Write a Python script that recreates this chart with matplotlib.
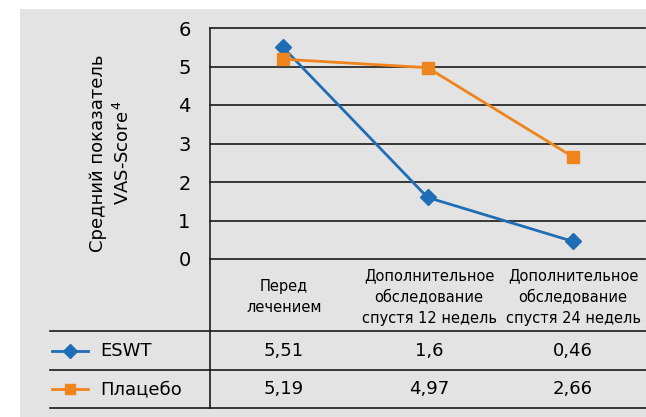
import matplotlib.pyplot as plt
from matplotlib.patches import Rectangle
from matplotlib.lines import Line2D

# data
categories = ['Перед\nлечением',
              'Дополнительное\nобследование\nспустя 12 недель',
              'Дополнительное\nобследование\nспустя 24 недель']
eswt = [5.51, 1.6, 0.46]
placebo = [5.19, 4.97, 2.66]
eswt_labels = ['5,51', '1,6', '0,46']
placebo_labels = ['5,19', '4,97', '2,66']
y_ticks = [0, 1, 2, 3, 4, 5, 6]

plt.rcParams['font.family'] = ['Liberation Sans Narrow', 'DejaVu Sans']

W, H = 646, 417
fig = plt.figure(figsize=(W / 100, H / 100), dpi=100)
fig.patch.set_facecolor('white')

def fx(px):
    return px / W

def fy(py):
    return 1 - py / H

bg = '#e3e3e3'
fig.add_artist(Rectangle((fx(20), 0), 1 - fx(20), fy(9), transform=fig.transFigure,
                         facecolor=bg, edgecolor='none', zorder=0))

ax = fig.add_axes([fx(210), fy(259), fx(645) - fx(210), fy(28) - fy(259)])
ax.set_facecolor('none')
ax.set_xlim(-0.5, 2.5)
ax.set_ylim(0, 6)
for s in ['top', 'right', 'bottom']:
    ax.spines[s].set_visible(False)
ax.spines['left'].set_color('#222222')
ax.spines['left'].set_linewidth(1.2)
for t in y_ticks:
    ax.axhline(t, color='#1a1a1a', lw=1.2, zorder=1, clip_on=False)
ax.set_yticks(y_ticks)
ax.set_yticklabels([str(t) for t in y_ticks], fontsize=14)
ax.tick_params(axis='y', length=0, pad=14)
ax.set_xticks([])

blue = '#1f6db5'
orange = '#f0841c'
x = range(len(categories))
ax.plot(x, eswt, color=blue, lw=2, marker='D', ms=8, zorder=3, clip_on=False)
ax.plot(x, placebo, color=orange, lw=2, marker='s', ms=8, zorder=3, clip_on=False)

fig.text(fx(111), fy(153), 'Средний показатель\nVAS-Score$^{\\,4}$', rotation=90,
         ha='center', va='center', fontsize=13, linespacing=1.35)

# table below
lc = '#1a1a1a'
fig.add_artist(Line2D([fx(210), fx(210)], [fy(259), fy(408)], transform=fig.transFigure,
                      color=lc, lw=1.2))
for py in [331, 370, 408]:
    fig.add_artist(Line2D([fx(50), 1], [fy(py), fy(py)], transform=fig.transFigure,
                          color=lc, lw=1.2))

col_x = [fx(284), fx(429), fx(573)]
for cx, lab in zip(col_x, categories):
    fig.text(cx, fy(297), lab, ha='center', va='center', fontsize=10.5, linespacing=1.55)
for cx, v in zip(col_x, eswt_labels):
    fig.text(cx, fy(351), v, ha='center', va='center', fontsize=13)
for cx, v in zip(col_x, placebo_labels):
    fig.text(cx, fy(389), v, ha='center', va='center', fontsize=13)

fig.add_artist(Line2D([fx(52), fx(88)], [fy(351), fy(351)], transform=fig.transFigure,
                      color=blue, lw=2))
fig.add_artist(Line2D([fx(70)], [fy(351)], transform=fig.transFigure,
                      color=blue, marker='D', ms=7, lw=0))
fig.add_artist(Line2D([fx(52), fx(88)], [fy(389), fy(389)], transform=fig.transFigure,
                      color=orange, lw=2))
fig.add_artist(Line2D([fx(70)], [fy(389)], transform=fig.transFigure,
                      color=orange, marker='s', ms=7, lw=0))
fig.text(fx(100), fy(351), 'ESWT', ha='left', va='center', fontsize=13)
fig.text(fx(100), fy(389), 'Плацебо', ha='left', va='center', fontsize=13)

fig.savefig('out.png', dpi=100, facecolor=fig.get_facecolor())
